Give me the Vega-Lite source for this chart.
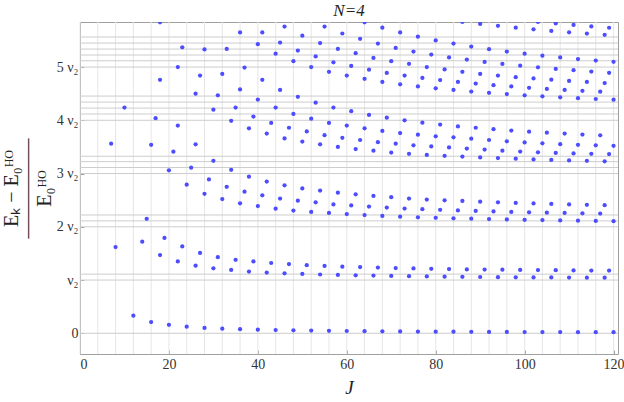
{
  "$schema": "https://vega.github.io/schema/vega-lite/v6.json",
  "autosize": {"type": "none"},
  "padding": {"left": 80, "top": 22, "right": 6, "bottom": 48},
  "width": 538,
  "height": 332,
  "background": "white",
  "title": {"text": "N=4", "font": "Liberation Serif", "fontSize": 17, "fontStyle": "italic", "fontWeight": "normal", "color": "#222", "anchor": "middle", "offset": 2},
  "datasets": {
    "vg": [{"g":0},{"g":4},{"g":8},{"g":12},{"g":16},{"g":20},{"g":24},{"g":28},{"g":32},{"g":36},{"g":40},{"g":44},{"g":48},{"g":52},{"g":56},{"g":60},{"g":64},{"g":68},{"g":72},{"g":76},{"g":80},{"g":84},{"g":88},{"g":92},{"g":96},{"g":100},{"g":104},{"g":108},{"g":112},{"g":116},{"g":120}],
    "hg": [{"h":0},{"h":1},{"h":1.111},{"h":2},{"h":2.111},{"h":2.222},{"h":3},{"h":3.113},{"h":3.224},{"h":3.325},{"h":4},{"h":4.118},{"h":4.229},{"h":4.342},{"h":4.455},{"h":5},{"h":5.118},{"h":5.226},{"h":5.338},{"h":5.451},{"h":5.564}],
    "pts": [
      {"J":12,"E":0.33},{"J":16,"E":0.21},{"J":20,"E":0.16},{"J":24,"E":0.125},{"J":28,"E":0.1},{"J":32,"E":0.087},{"J":36,"E":0.076},{"J":40,"E":0.068},{"J":44,"E":0.061},{"J":48,"E":0.056},{"J":52,"E":0.051},{"J":56,"E":0.047},{"J":60,"E":0.043},{"J":64,"E":0.04},{"J":68,"E":0.037},{"J":72,"E":0.035},{"J":76,"E":0.033},{"J":80,"E":0.031},{"J":84,"E":0.029},{"J":88,"E":0.028},{"J":92,"E":0.026},{"J":96,"E":0.025},{"J":100,"E":0.024},{"J":104,"E":0.023},{"J":108,"E":0.022},{"J":112,"E":0.021},{"J":116,"E":0.021},{"J":120,"E":0.02},
      {"J":15,"E":2.15},{"J":19,"E":1.79},{"J":23,"E":1.63},{"J":27,"E":1.51},{"J":31,"E":1.43},{"J":35,"E":1.38},{"J":39,"E":1.35},{"J":43,"E":1.32},{"J":47,"E":1.3},{"J":51,"E":1.28},{"J":55,"E":1.265},{"J":59,"E":1.25},{"J":63,"E":1.243},{"J":67,"E":1.234},{"J":71,"E":1.226},{"J":75,"E":1.218},{"J":79,"E":1.211},{"J":83,"E":1.205},{"J":87,"E":1.2},{"J":91,"E":1.197},{"J":95,"E":1.194},{"J":99,"E":1.19},{"J":103,"E":1.187},{"J":107,"E":1.184},{"J":111,"E":1.181},{"J":115,"E":1.179},{"J":119,"E":1.177},
      {"J":8,"E":1.62},{"J":14,"E":1.72},{"J":18,"E":1.47},{"J":22,"E":1.35},{"J":26,"E":1.27},{"J":30,"E":1.22},{"J":34,"E":1.19},{"J":38,"E":1.16},{"J":42,"E":1.14},{"J":46,"E":1.127},{"J":50,"E":1.115},{"J":54,"E":1.104},{"J":58,"E":1.096},{"J":62,"E":1.089},{"J":66,"E":1.083},{"J":70,"E":1.078},{"J":74,"E":1.072},{"J":78,"E":1.067},{"J":82,"E":1.063},{"J":86,"E":1.06},{"J":90,"E":1.057},{"J":94,"E":1.054},{"J":98,"E":1.052},{"J":102,"E":1.05},{"J":106,"E":1.048},{"J":110,"E":1.046},{"J":114,"E":1.045},{"J":118,"E":1.044},
      {"J":18,"E":4.76},{"J":22,"E":3.9},{"J":26,"E":3.55},{"J":30,"E":3.24},{"J":34,"E":3.07},{"J":38,"E":2.94},{"J":42,"E":2.85},{"J":46,"E":2.78},{"J":50,"E":2.72},{"J":54,"E":2.68},{"J":58,"E":2.64},{"J":62,"E":2.61},{"J":66,"E":2.58},{"J":70,"E":2.555},{"J":74,"E":2.53},{"J":78,"E":2.512},{"J":82,"E":2.498},{"J":86,"E":2.485},{"J":90,"E":2.472},{"J":94,"E":2.46},{"J":98,"E":2.448},{"J":102,"E":2.438},{"J":106,"E":2.429},{"J":110,"E":2.42},{"J":114,"E":2.412},{"J":118,"E":2.405},
      {"J":17,"E":4.04},{"J":21,"E":3.41},{"J":25,"E":3.11},{"J":29,"E":2.89},{"J":33,"E":2.75},{"J":37,"E":2.66},{"J":41,"E":2.59},{"J":45,"E":2.53},{"J":49,"E":2.49},{"J":53,"E":2.46},{"J":57,"E":2.42},{"J":61,"E":2.4},{"J":65,"E":2.38},{"J":69,"E":2.36},{"J":73,"E":2.343},{"J":77,"E":2.33},{"J":81,"E":2.318},{"J":85,"E":2.307},{"J":89,"E":2.298},{"J":93,"E":2.288},{"J":97,"E":2.28},{"J":101,"E":2.273},{"J":105,"E":2.266},{"J":109,"E":2.26},{"J":113,"E":2.254},{"J":117,"E":2.248},
      {"J":16,"E":3.54},{"J":20,"E":3.06},{"J":24,"E":2.79},{"J":28,"E":2.62},{"J":32,"E":2.52},{"J":36,"E":2.44},{"J":40,"E":2.39},{"J":44,"E":2.34},{"J":48,"E":2.305},{"J":52,"E":2.28},{"J":56,"E":2.26},{"J":60,"E":2.24},{"J":64,"E":2.22},{"J":68,"E":2.204},{"J":72,"E":2.19},{"J":76,"E":2.179},{"J":80,"E":2.169},{"J":84,"E":2.16},{"J":88,"E":2.152},{"J":92,"E":2.145},{"J":96,"E":2.138},{"J":100,"E":2.132},{"J":104,"E":2.126},{"J":108,"E":2.12},{"J":112,"E":2.115},{"J":116,"E":2.11},{"J":120,"E":2.105},
      {"J":18,"E":5.84},{"J":22,"E":5.0},{"J":26,"E":4.5},{"J":30,"E":4.2},{"J":34,"E":3.99},{"J":38,"E":3.85},{"J":42,"E":3.75},{"J":46,"E":3.66},{"J":50,"E":3.6},{"J":54,"E":3.55},{"J":58,"E":3.5},{"J":62,"E":3.46},{"J":66,"E":3.43},{"J":70,"E":3.395},{"J":74,"E":3.37},{"J":78,"E":3.35},{"J":82,"E":3.332},{"J":86,"E":3.318},{"J":90,"E":3.303},{"J":94,"E":3.29},{"J":98,"E":3.278},{"J":102,"E":3.265},{"J":106,"E":3.255},{"J":110,"E":3.246},{"J":114,"E":3.238},{"J":118,"E":3.23},
      {"J":23,"E":5.37},{"J":27,"E":4.84},{"J":31,"E":4.47},{"J":35,"E":4.24},{"J":39,"E":4.07},{"J":43,"E":3.95},{"J":47,"E":3.86},{"J":51,"E":3.79},{"J":55,"E":3.72},{"J":59,"E":3.67},{"J":63,"E":3.63},{"J":67,"E":3.59},{"J":71,"E":3.56},{"J":75,"E":3.53},{"J":79,"E":3.51},{"J":83,"E":3.49},{"J":87,"E":3.47},{"J":91,"E":3.45},{"J":95,"E":3.43},{"J":99,"E":3.413},{"J":103,"E":3.398},{"J":107,"E":3.386},{"J":111,"E":3.377},{"J":115,"E":3.37},{"J":119,"E":3.365},
      {"J":28,"E":5.33},{"J":32,"E":4.87},{"J":36,"E":4.58},{"J":40,"E":4.39},{"J":44,"E":4.24},{"J":48,"E":4.12},{"J":52,"E":4.03},{"J":56,"E":3.95},{"J":60,"E":3.9},{"J":64,"E":3.85},{"J":68,"E":3.8},{"J":72,"E":3.76},{"J":76,"E":3.73},{"J":80,"E":3.7},{"J":84,"E":3.68},{"J":88,"E":3.655},{"J":92,"E":3.63},{"J":96,"E":3.605},{"J":100,"E":3.585},{"J":104,"E":3.567},{"J":108,"E":3.552},{"J":112,"E":3.54},{"J":116,"E":3.53},{"J":120,"E":3.52},
      {"J":33,"E":5.34},{"J":37,"E":4.99},{"J":41,"E":4.76},{"J":45,"E":4.57},{"J":49,"E":4.44},{"J":53,"E":4.33},{"J":57,"E":4.24},{"J":61,"E":4.17},{"J":65,"E":4.1},{"J":69,"E":4.05},{"J":73,"E":4.0},{"J":77,"E":3.955},{"J":81,"E":3.92},{"J":85,"E":3.885},{"J":89,"E":3.86},{"J":93,"E":3.832},{"J":97,"E":3.808},{"J":101,"E":3.787},{"J":105,"E":3.768},{"J":109,"E":3.75},{"J":113,"E":3.733},{"J":117,"E":3.717},
      {"J":36,"E":5.65},{"J":40,"E":5.43},{"J":44,"E":5.25},{"J":48,"E":5.11},{"J":52,"E":5.0},{"J":56,"E":4.91},{"J":60,"E":4.84},{"J":64,"E":4.78},{"J":68,"E":4.72},{"J":72,"E":4.675},{"J":76,"E":4.635},{"J":80,"E":4.6},{"J":84,"E":4.57},{"J":88,"E":4.54},{"J":92,"E":4.515},{"J":96,"E":4.492},{"J":100,"E":4.47},{"J":104,"E":4.45},{"J":108,"E":4.432},{"J":112,"E":4.415},{"J":116,"E":4.4},{"J":120,"E":4.388},
      {"J":41,"E":5.65},{"J":45,"E":5.46},{"J":49,"E":5.31},{"J":53,"E":5.2},{"J":57,"E":5.09},{"J":61,"E":5.02},{"J":65,"E":4.95},{"J":69,"E":4.89},{"J":73,"E":4.84},{"J":77,"E":4.795},{"J":81,"E":4.755},{"J":85,"E":4.72},{"J":89,"E":4.69},{"J":93,"E":4.66},{"J":97,"E":4.635},{"J":101,"E":4.61},{"J":105,"E":4.59},{"J":109,"E":4.57},{"J":113,"E":4.553},{"J":117,"E":4.538},
      {"J":46,"E":5.76},{"J":50,"E":5.59},{"J":54,"E":5.45},{"J":58,"E":5.34},{"J":62,"E":5.26},{"J":66,"E":5.17},{"J":70,"E":5.11},{"J":74,"E":5.06},{"J":78,"E":5.0},{"J":82,"E":4.955},{"J":86,"E":4.91},{"J":90,"E":4.87},{"J":94,"E":4.84},{"J":98,"E":4.81},{"J":102,"E":4.785},{"J":106,"E":4.762},{"J":110,"E":4.74},{"J":114,"E":4.72},{"J":118,"E":4.7},
      {"J":55,"E":5.76},{"J":59,"E":5.63},{"J":63,"E":5.53},{"J":67,"E":5.44},{"J":71,"E":5.36},{"J":75,"E":5.29},{"J":79,"E":5.235},{"J":83,"E":5.18},{"J":87,"E":5.14},{"J":91,"E":5.095},{"J":95,"E":5.058},{"J":99,"E":5.025},{"J":103,"E":4.995},{"J":107,"E":4.965},{"J":111,"E":4.94},{"J":115,"E":4.915},{"J":119,"E":4.892},
      {"J":64,"E":5.84},{"J":68,"E":5.74},{"J":72,"E":5.65},{"J":76,"E":5.57},{"J":80,"E":5.5},{"J":84,"E":5.44},{"J":88,"E":5.385},{"J":92,"E":5.335},{"J":96,"E":5.29},{"J":100,"E":5.25},{"J":104,"E":5.213},{"J":108,"E":5.18},{"J":112,"E":5.15},{"J":116,"E":5.122},{"J":120,"E":5.098},
      {"J":86,"E":5.85},{"J":90,"E":5.81},{"J":94,"E":5.775},{"J":98,"E":5.74},{"J":102,"E":5.708},{"J":106,"E":5.678},{"J":110,"E":5.652},{"J":114,"E":5.628},{"J":118,"E":5.605},
      {"J":103,"E":5.85},{"J":107,"E":5.82},{"J":111,"E":5.79},{"J":115,"E":5.763},{"J":119,"E":5.738},
      {"J":7,"E":3.56},{"J":10,"E":4.24}
    ]
  },
  "layer": [
    {
      "data": {"name": "vg"},
      "mark": {"type": "rule", "color": "#e6e6e6", "strokeWidth": 1},
      "encoding": {
        "x": {"field": "g", "type": "quantitative", "scale": {"domain": [0, 121], "nice": false, "zero": false}}
      }
    },
    {
      "data": {"name": "hg"},
      "mark": {"type": "rule", "color": "#cdcdcd", "strokeWidth": 1},
      "encoding": {
        "y": {"field": "h", "type": "quantitative", "scale": {"domain": [-0.389, 5.846], "nice": false, "zero": false}}
      }
    },
    {
      "data": {"name": "pts"},
      "mark": {"type": "point", "filled": true, "size": 18, "color": "#4d4dff", "opacity": 1, "clip": true},
      "encoding": {
        "x": {"field": "J", "type": "quantitative", "scale": {"domain": [0, 121], "nice": false, "zero": false},
          "axis": {"values": [0, 20, 40, 60, 80, 100, 120], "grid": false, "domain": false, "ticks": true, "tickSize": -4, "tickColor": "#a0a0a0",
            "labelFont": "Liberation Serif", "labelFontSize": 14, "labelColor": "#333", "labelPadding": 7,
            "title": "J", "titleFont": "Liberation Serif", "titleFontStyle": "italic", "titleFontWeight": "normal", "titleFontSize": 19, "titleColor": "#222",
            "titleX": 269, "titleY": 39, "titleBaseline": "alphabetic", "titleAlign": "center"}},
        "y": {"field": "E", "type": "quantitative", "scale": {"domain": [-0.389, 5.846], "nice": false, "zero": false},
          "axis": {"values": [0, 1, 2, 3, 4, 5], "grid": false, "domain": false, "ticks": true, "tickSize": -4, "tickColor": "#a0a0a0",
            "labelExpr": "datum.value == 0 ? '0' : datum.value == 1 ? 'ν₂' : datum.value + ' ν₂'",
            "labelFont": "Liberation Serif", "labelFontSize": 14, "labelColor": "#333", "labelPadding": 6,
            "title": ["Eₖ − E₀ᴴᴼ", "—————", "E₀ᴴᴼ"], "titleFont": "Liberation Serif", "titleFontWeight": "normal", "titleFontSize": 20, "titleColor": "#222",
            "titleLineHeight": 16.5, "titleAngle": -90, "titleX": -63, "titleY": 166, "titleBaseline": "alphabetic", "titleAlign": "center"}}
      }
    }
  ],
  "config": {
    "view": {"stroke": "#a0a0a0", "strokeWidth": 1}
  }
}
